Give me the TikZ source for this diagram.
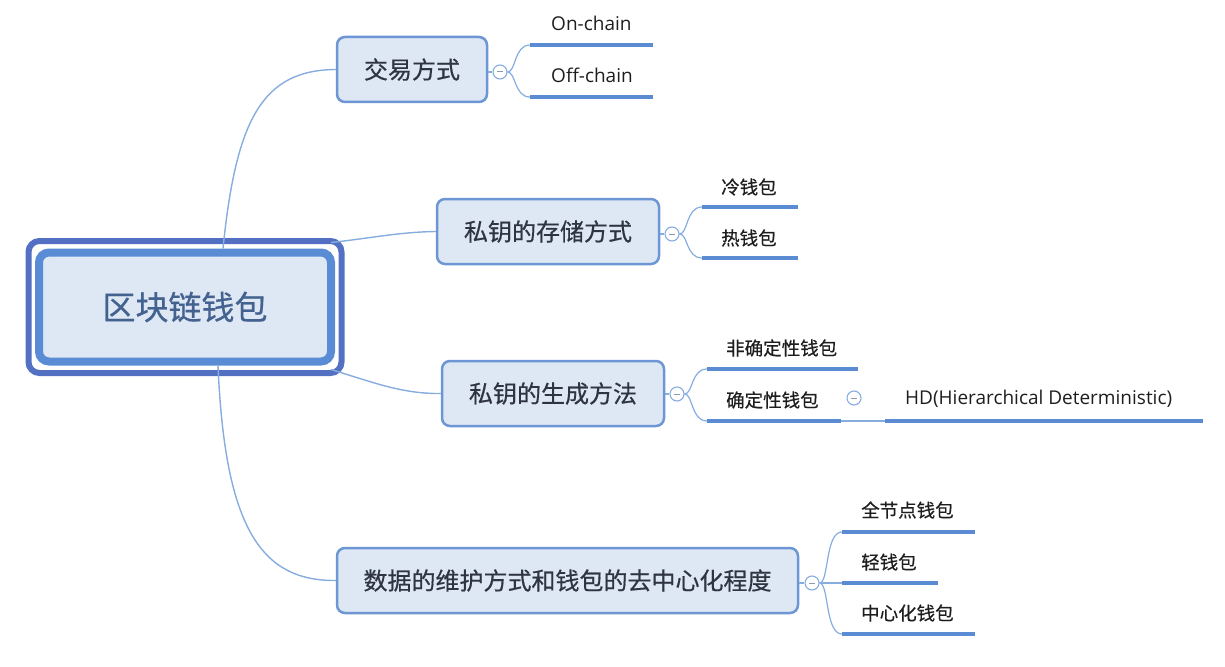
\documentclass[tikz,border=0pt]{standalone}
\usepackage{fontspec}
\setmainfont{Noto Sans CJK SC}
\newfontfamily\heavycjk{Noto Sans CJK SC}[FakeBold=0.5]
\newfontfamily\latinfont{Open Sans}
\definecolor{boxfill}{HTML}{DEE7F4}
\definecolor{boxline}{HTML}{6C97D4}
\definecolor{linkblue}{HTML}{86ACE0}
\definecolor{underblue}{HTML}{5B8BD3}
\definecolor{rootinner}{HTML}{5A8CD6}
\definecolor{rootouter}{HTML}{5470C3}
\definecolor{roottext}{HTML}{44628F}
\definecolor{topictext}{HTML}{2E3440}
\definecolor{leaftext}{HTML}{1E1E1E}
\definecolor{foldminus}{HTML}{8C9BB0}
\begin{document}
\begin{tikzpicture}[x=1pt,y=-1pt,
  topic/.style={draw=boxline, line width=2.5pt, fill=boxfill, rounded corners=8pt,
    font=\heavycjk\fontsize{24}{24}\selectfont, text=topictext, minimum height=65pt, inner sep=0pt},
  leaf/.style={anchor=west, font=\heavycjk\fontsize{18.5}{18.5}\selectfont, text=leaftext, inner sep=0pt},
  latinleaf/.style={leaf, font=\latinfont\fontsize{19}{19}\selectfont},
  link/.style={draw=linkblue, line width=1.4pt},
  sublink/.style={draw=linkblue, line width=1.2pt},
  under/.style={draw=underblue, line width=4pt},
  fold/.style={circle, draw=linkblue, line width=1.1pt, fill=white, minimum size=14pt, inner sep=0pt,
    path picture={\draw[foldminus, line width=1pt] ([xshift=-3pt]path picture bounding box.center) -- ([xshift=3pt]path picture bounding box.center);}}
]
\useasboundingbox (0,0) rectangle (1225,666);

% central topic with its double frame
\node[draw=rootouter, line width=6pt, rounded corners=11pt, minimum width=313pt, minimum height=132pt] (rootframe) at (185,307) {};
\node[draw=rootinner, line width=8pt, fill=boxfill, rounded corners=10pt, minimum width=292pt, minimum height=109pt,
  font=\heavycjk\fontsize{33}{33}\selectfont, text=roottext] (root) at (185,307) {区块链钱包};

% main topics
\node[topic, minimum width=150pt] (t1) at (412,69.5) {交易方式};
\node[topic, minimum width=222pt] (t2) at (548,231.5) {私钥的存储方式};
\node[topic, minimum width=222pt] (t3) at (553,393.5) {私钥的生成方法};
\node[topic, minimum width=461pt] (t4) at (567.5,580.5) {数据的维护方式和钱包的去中心化程度};

% links from the central topic
\draw[link] ([xshift=38pt]root.north) .. controls (236,120) and (262,70) .. (t1.west);
\draw[link] ([xshift=-4pt,yshift=6pt]root.north east) .. controls (372,238) and (400,232) .. (t2.west);
\draw[link] ([xshift=-4pt,yshift=-4pt]root.south east) .. controls (372,382) and (402,394) .. (t3.west);
\draw[link] ([xshift=33pt]root.south) .. controls (225,530) and (262,581) .. (t4.west);

% fold markers
\node[fold] (f1) at (500,72) {};
\node[fold] (f2) at (672,234) {};
\node[fold] (f3) at (677,394) {};
\node[fold] (f4) at (812,583) {};
\draw[sublink] (t1.east |- f1) -- (f1.west);
\draw[sublink] (t2.east |- f2) -- (f2.west);
\draw[sublink] (t3.east |- f3) -- (f3.west);
\draw[sublink] (t4.east |- f4) -- (f4.west);

% leaves of 交易方式
\node[latinleaf] (on) at (551,23) {On-chain};
\node[latinleaf] (off) at (551,75) {Off-chain};
\coordinate (on-a) at (530,45);  \coordinate (on-b) at (653,45);
\coordinate (off-a) at (530,97); \coordinate (off-b) at (653,97);
\draw[sublink] (f1.east) .. controls (516,72) and (514,45) .. (on-a);
\draw[sublink] (f1.east) .. controls (516,72) and (514,97) .. (off-a);
\draw[under] (on-a) -- (on-b);
\draw[under] (off-a) -- (off-b);

% leaves of 私钥的存储方式
\node[leaf] (cold) at (721,187) {冷钱包};
\node[leaf] (hot) at (721,238) {热钱包};
\coordinate (cold-a) at (702,207); \coordinate (cold-b) at (798,207);
\coordinate (hot-a) at (702,258);  \coordinate (hot-b) at (798,258);
\draw[sublink] (f2.east) .. controls (688,234) and (686,207) .. (cold-a);
\draw[sublink] (f2.east) .. controls (688,234) and (686,258) .. (hot-a);
\draw[under] (cold-a) -- (cold-b);
\draw[under] (hot-a) -- (hot-b);

% leaves of 私钥的生成方法
\node[leaf] (nondet) at (726,348) {非确定性钱包};
\node[leaf] (det) at (726,400) {确定性钱包};
\coordinate (nondet-a) at (707,369); \coordinate (nondet-b) at (858,369);
\coordinate (det-a) at (707,421);    \coordinate (det-b) at (841,421);
\draw[sublink] (f3.east) .. controls (693,394) and (691,369) .. (nondet-a);
\draw[sublink] (f3.east) .. controls (693,394) and (691,421) .. (det-a);
\draw[under] (nondet-a) -- (nondet-b);
\draw[under] (det-a) -- (det-b);

% deterministic wallet sub-branch
\node[fold] (f5) at (854,398) {};
\node[latinleaf] (hd) at (905,399) {HD(Hierarchical Deterministic)};
\coordinate (hd-a) at (885,421); \coordinate (hd-b) at (1203,421);
\draw[sublink] (det-b) -- (hd-a);
\draw[under] (hd-a) -- (hd-b);

% leaves of 数据的维护方式和钱包的去中心化程度
\node[leaf] (full) at (861,510) {全节点钱包};
\node[leaf] (light) at (861,562) {轻钱包};
\node[leaf] (central) at (861,613) {中心化钱包};
\coordinate (full-a) at (842,532);    \coordinate (full-b) at (975,532);
\coordinate (light-a) at (842,583);   \coordinate (light-b) at (938,583);
\coordinate (central-a) at (842,634); \coordinate (central-b) at (975,634);
\draw[sublink] (f4.east) .. controls (829,583) and (825,532) .. (full-a);
\draw[sublink] (f4.east) -- (light-a);
\draw[sublink] (f4.east) .. controls (829,583) and (825,634) .. (central-a);
\draw[under] (full-a) -- (full-b);
\draw[under] (light-a) -- (light-b);
\draw[under] (central-a) -- (central-b);
\end{tikzpicture}
\end{document}
